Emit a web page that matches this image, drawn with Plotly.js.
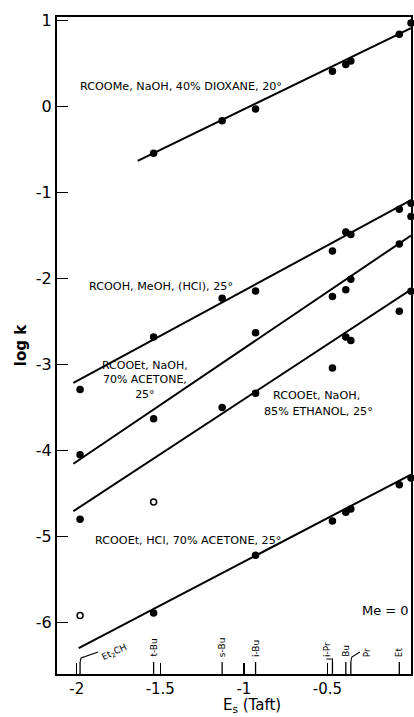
<!DOCTYPE html>
<html><head><meta charset="utf-8">
<script src="https://cdn.plot.ly/plotly-3.0.1.min.js"></script>
<style>html,body{margin:0;padding:0;background:#fff}#chart{width:414px;height:717px}</style>
</head><body><div id="chart"></div>
<script>
// ---- data ----
const seriesLabels = ["RCOOMe, NaOH, 40% DIOXANE, 20°", "RCOOH, MeOH, (HCl), 25°", "RCOOEt, NaOH,<br>70% ACETONE,<br>25°", "RCOOEt, NaOH,", "85% ETHANOL, 25°", "RCOOEt, HCl, 70% ACETONE, 25°", "Me = 0"];
const s1x = [-1.54, -1.13, -0.93, -0.47, -0.39, -0.36, -0.07, 0];
const s1y = [-0.544, -0.165, -0.03, 0.41, 0.49, 0.53, 0.84, 0.97];
const s2x = [-1.98, -1.54, -1.13, -0.93, -0.47, -0.39, -0.36, -0.07, 0];
const s2y = [-3.29, -2.68, -2.23, -2.145, -1.68, -1.46, -1.49, -1.195, -1.126];
const s3x = [-1.98, -1.54, -0.93, -0.47, -0.39, -0.36, -0.07, 0];
const s3y = [-4.05, -3.63, -2.63, -2.21, -2.13, -2.01, -1.60, -1.28];
const s4x = [-1.98, -1.13, -0.93, -0.47, -0.39, -0.36, -0.07, 0];
const s4y = [-4.80, -3.50, -3.335, -3.04, -2.68, -2.72, -2.38, -2.15];
const s5x = [-1.54, -0.93, -0.47, -0.39, -0.36, -0.07, 0];
const s5y = [-5.89, -5.22, -4.82, -4.72, -4.68, -4.40, -4.32];
const openX = [-1.54, -1.98];
const openY = [-4.60, -5.92];
const fitSlope = [0.943, 1.051, 1.314, 1.2755, 1.015];
const fitIntercept = [0.91, -1.09, -1.50, -2.13, -4.28];
const fitStart = [-1.635, -2.02, -2.02, -2.02, -1.988];
const fitEnd = [0, 0, 0, 0, 0];
const subNames = ["Et<sub>2</sub>CH", "t-Bu", "s-Bu", "i-Bu", "i-Pr", "Bu", "Pr", "Et"];
const subEs = [-1.98, -1.54, -1.13, -0.93, -0.47, -0.39, -0.36, -0.07];
const xTickVals = [-2, -1.5, -1, -0.5, 0];
const xTickText = ["-2", "-1.5", "-1", "-0.5", "0"];
const yTickVals = [1, 0, -1, -2, -3, -4, -5, -6];
const yTickText = ["1", "0", "-1", "-2", "-3", "-4", "-5", "-6"];

// ---- geometry helpers ----
const XR = [-2.118, 0], YR = [-6.6, 1.041];
const PW = 354, PH = 657, L = 57, T = 17;
const pxX = (px) => XR[0] + (px - L) / PW * (XR[1] - XR[0]);
const pxY = (py) => YR[1] - (py - T) / PH * (YR[1] - YR[0]);
const dX = (p) => p / PW * (XR[1] - XR[0]);
const dY = (p) => p / PH * (YR[1] - YR[0]);

const FONT = 'DejaVu Sans, Arial, sans-serif';
const traces = [];
const sx = [s1x, s2x, s3x, s4x, s5x], sy = [s1y, s2y, s3y, s4y, s5y];
for (let i = 0; i < 5; i++) {
  traces.push({x: [fitStart[i], fitEnd[i]],
    y: [fitIntercept[i] + fitSlope[i] * fitStart[i], fitIntercept[i] + fitSlope[i] * fitEnd[i]],
    mode: 'lines', line: {color: '#000', width: 2}, hoverinfo: 'skip'});
  traces.push({x: sx[i], y: sy[i], mode: 'markers', cliponaxis: false,
    marker: {color: '#000', size: 7.5, symbol: 'circle'}});
}
traces.push({x: openX, y: openY, mode: 'markers', cliponaxis: false,
  marker: {color: '#000', size: 6, symbol: 'circle-open', line: {width: 1.5, color: '#000'}}});

const shapes = [];
const annotations = [];
const tickTop = YR[0] + dY(12);
subEs.forEach((e, i) => {
  shapes.push({type: 'line', xref: 'x', yref: 'y', x0: e, x1: e, y0: YR[0], y1: tickTop,
    line: {color: '#000', width: 1.3}});
});
// leader lines
const e0 = subEs[0];
shapes.push({type: 'path', xref: 'x', yref: 'y',
  path: `M ${e0} ${tickTop} L ${e0 + dX(1)} ${tickTop + dY(4)} L ${e0 + dX(18)} ${tickTop + dY(10)}`,
  line: {color: '#000', width: 1.1}});
const e4 = subEs[4];
shapes.push({type: 'path', xref: 'x', yref: 'y',
  path: `M ${e4} ${tickTop} L ${e4} ${tickTop + dY(3)} L ${e4 - dX(6)} ${tickTop + dY(3)}`,
  line: {color: '#000', width: 1.1}});
const e6 = subEs[6];
shapes.push({type: 'path', xref: 'x', yref: 'y',
  path: `M ${e6} ${tickTop} L ${e6 + dX(1)} ${tickTop + dY(5)} L ${e6 + dX(9)} ${tickTop + dY(10)}`,
  line: {color: '#000', width: 1.1}});

const labDx = [0, 0, 0, 0, -6, 0, 16, 0];
subNames.forEach((n, i) => {
  if (i === 0) {
    annotations.push({x: pxX(114), y: pxY(652), text: n, showarrow: false, textangle: -25,
      font: {size: 9, family: FONT}, xanchor: 'center', yanchor: 'middle'});
  } else {
    annotations.push({x: subEs[i] + dX(labDx[i]), y: tickTop + dY(3), text: n, showarrow: false,
      textangle: -90, font: {size: 9, family: FONT}, xanchor: 'center', yanchor: 'bottom'});
  }
});

const annPos = [
  {x: pxX(78), y: pxY(86), xa: 'left', size: 11.2},
  {x: pxX(87), y: pxY(286.7), xa: 'left', size: 11.2},
  {x: pxX(145), y: pxY(379.5), xa: 'center', size: 11},
  {x: pxX(316), y: pxY(395), xa: 'center', size: 11.2},
  {x: pxX(318), y: pxY(411.7), xa: 'center', size: 11.2},
  {x: pxX(93), y: pxY(540), xa: 'left', size: 11.2},
  {x: pxX(360), y: pxY(610.7), xa: 'left', size: 13}
];
seriesLabels.forEach((t, i) => {
  annotations.push({x: annPos[i].x, y: annPos[i].y, text: t, showarrow: false,
    xanchor: annPos[i].xa, yanchor: 'middle', align: 'center',
    font: {size: annPos[i].size, family: FONT, color: '#000'}});
});
// x-axis title placed as annotation (offset to the right like the reference)
annotations.push({xref: 'paper', yref: 'paper', x: (252 - L) / PW, y: -(705 - T - PH) / PH,
  text: 'E<sub>s</sub> (Taft)', showarrow: false, xanchor: 'center', yanchor: 'middle',
  borderpad: 0, font: {size: 15, family: FONT, color: '#000'}});

const axisCommon = {showline: true, linewidth: 2, linecolor: '#000', mirror: true,
  showgrid: false, zeroline: false, ticks: 'inside', ticklen: 11, tickwidth: 1.5,
  tickcolor: '#000', tickfont: {size: 16, family: FONT, color: '#000'}};
const layout = {
  width: 414, height: 717,
  margin: {l: L, r: 414 - L - PW, t: T, b: 717 - T - PH, pad: 0},
  paper_bgcolor: '#fff', plot_bgcolor: '#fff', showlegend: false,
  font: {family: FONT, color: '#000'},
  xaxis: Object.assign({}, axisCommon, {range: XR, tickvals: xTickVals, ticktext: xTickText,
    tickfont: {size: 15, family: FONT, color: '#000'}}),
  yaxis: Object.assign({}, axisCommon, {range: YR, tickvals: yTickVals, ticktext: yTickText,
    title: {text: '<b>log k</b>', font: {size: 15, family: FONT}, standoff: 6}}),
  shapes: shapes, annotations: annotations
};
Plotly.newPlot('chart', traces, layout, {staticPlot: true, displayModeBar: false});
</script>
</body></html>
